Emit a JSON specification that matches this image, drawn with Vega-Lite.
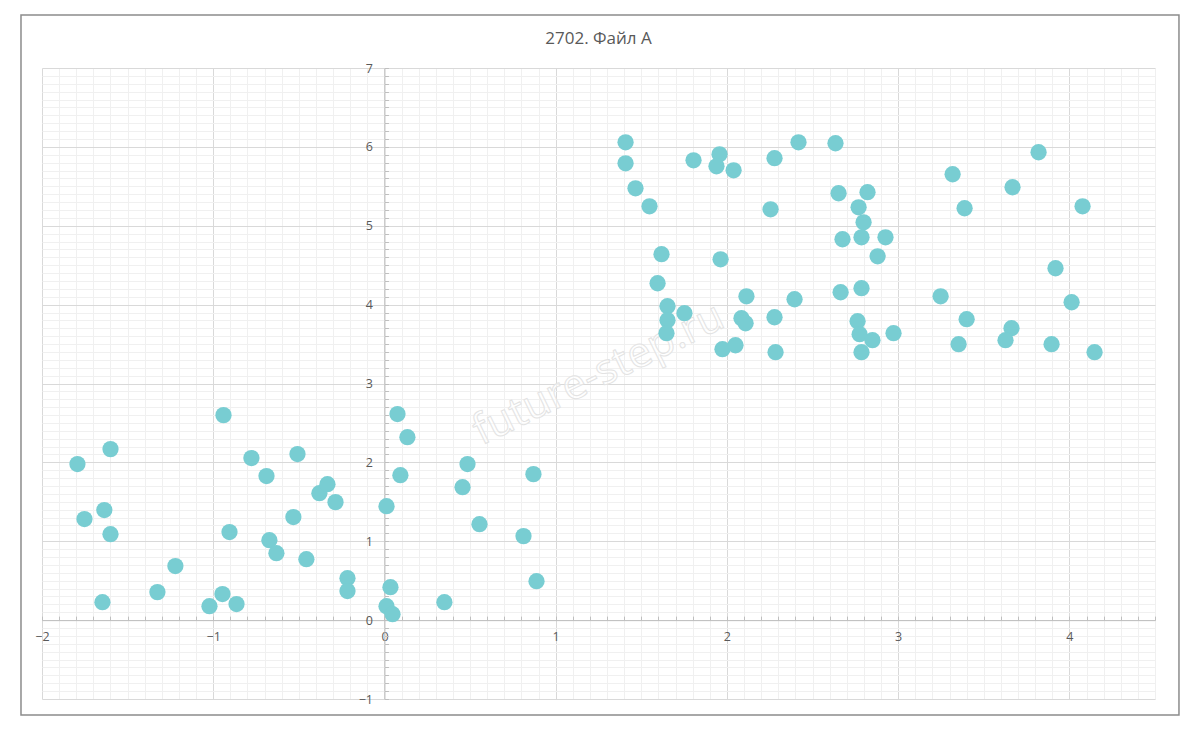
{
  "$schema": "https://vega.github.io/schema/vega-lite/v6.json",
  "width": 1113,
  "height": 631,
  "autosize": {"type": "none"},
  "padding": {"left": 42, "top": 68, "right": 45, "bottom": 32},
  "background": "white",
  "title": {
    "text": "2702. Файл А",
    "font": "Open Sans",
    "fontSize": 17,
    "fontWeight": "normal",
    "color": "#595959",
    "anchor": "middle",
    "offset": -34
  },
  "config": {
    "view": {"stroke": null},
    "axis": {
      "labelFont": "Open Sans",
      "labelFontSize": 12.5,
      "labelColor": "#595959",
      "domainColor": "#bfbfbf",
      "tickColor": "#bfbfbf",
      "labelOverlap": false,
      "labelBound": false,
      "labelFlush": false,
      "title": null
    }
  },
  "data": {
    "values": [
      {"x": -1.793, "y": 1.978}, {"x": -1.600, "y": 2.168}, {"x": -1.752, "y": 1.281}, {"x": -1.636, "y": 1.395},
      {"x": -1.600, "y": 1.090}, {"x": -1.647, "y": 0.228}, {"x": -1.326, "y": 0.355}, {"x": -1.221, "y": 0.685},
      {"x": -1.022, "y": 0.177}, {"x": -0.946, "y": 0.330}, {"x": -0.864, "y": 0.203}, {"x": -0.940, "y": 2.599},
      {"x": -0.905, "y": 1.116}, {"x": -0.777, "y": 2.054}, {"x": -0.689, "y": 1.826}, {"x": -0.672, "y": 1.014},
      {"x": -0.631, "y": 0.849}, {"x": -0.532, "y": 1.306}, {"x": -0.508, "y": 2.105}, {"x": -0.456, "y": 0.773},
      {"x": -0.380, "y": 1.610}, {"x": -0.333, "y": 1.724}, {"x": -0.286, "y": 1.496}, {"x": -0.216, "y": 0.532},
      {"x": -0.216, "y": 0.368}, {"x": 0.076, "y": 2.612}, {"x": 0.134, "y": 2.320}, {"x": 0.093, "y": 1.838},
      {"x": 0.012, "y": 1.445}, {"x": 0.485, "y": 1.978}, {"x": 0.456, "y": 1.686}, {"x": 0.555, "y": 1.217},
      {"x": 0.870, "y": 1.851}, {"x": 0.812, "y": 1.065}, {"x": 0.888, "y": 0.494}, {"x": 0.350, "y": 0.228},
      {"x": 0.035, "y": 0.418}, {"x": 0.012, "y": 0.177}, {"x": 0.047, "y": 0.076},
      {"x": 1.408, "y": 6.058}, {"x": 1.408, "y": 5.792}, {"x": 1.466, "y": 5.475}, {"x": 1.548, "y": 5.247},
      {"x": 1.805, "y": 5.830}, {"x": 1.957, "y": 5.906}, {"x": 1.939, "y": 5.754}, {"x": 2.039, "y": 5.703},
      {"x": 2.278, "y": 5.856}, {"x": 2.418, "y": 6.058}, {"x": 2.634, "y": 6.046}, {"x": 2.652, "y": 5.412},
      {"x": 2.821, "y": 5.425}, {"x": 2.769, "y": 5.234}, {"x": 2.798, "y": 5.044}, {"x": 2.675, "y": 4.829},
      {"x": 2.786, "y": 4.854}, {"x": 2.926, "y": 4.854}, {"x": 2.880, "y": 4.613}, {"x": 2.255, "y": 5.209},
      {"x": 1.618, "y": 4.639}, {"x": 1.963, "y": 4.575}, {"x": 1.595, "y": 4.271}, {"x": 1.653, "y": 3.980},
      {"x": 1.752, "y": 3.891}, {"x": 1.653, "y": 3.802}, {"x": 1.647, "y": 3.638}, {"x": 2.114, "y": 4.106},
      {"x": 2.085, "y": 3.828}, {"x": 2.109, "y": 3.764}, {"x": 2.395, "y": 4.068}, {"x": 2.278, "y": 3.840},
      {"x": 1.974, "y": 3.435}, {"x": 2.050, "y": 3.485}, {"x": 2.284, "y": 3.397}, {"x": 2.664, "y": 4.157},
      {"x": 2.786, "y": 4.208}, {"x": 2.763, "y": 3.790}, {"x": 2.775, "y": 3.625}, {"x": 2.850, "y": 3.549},
      {"x": 2.786, "y": 3.397}, {"x": 2.973, "y": 3.638}, {"x": 3.318, "y": 5.653}, {"x": 3.820, "y": 5.932},
      {"x": 3.668, "y": 5.488}, {"x": 3.388, "y": 5.222}, {"x": 4.077, "y": 5.247}, {"x": 3.919, "y": 4.461},
      {"x": 3.248, "y": 4.106}, {"x": 4.013, "y": 4.030}, {"x": 3.400, "y": 3.815}, {"x": 3.662, "y": 3.701},
      {"x": 3.627, "y": 3.549}, {"x": 3.353, "y": 3.498}, {"x": 3.896, "y": 3.498}, {"x": 4.147, "y": 3.397}
    ]
  },
  "layer": [
    {
      "mark": {"type": "point", "opacity": 0},
      "encoding": {
        "x": {
          "field": "x", "type": "quantitative",
          "scale": {"domain": [-2, 4.5], "nice": false, "zero": false},
          "axis": {
            "orient": "top", "grid": true, "labels": false, "ticks": false, "domain": false,
            "values": [-2,-1.9,-1.8,-1.7,-1.6,-1.5,-1.4,-1.3,-1.2,-1.1,-1,-0.9,-0.8,-0.7,-0.6,-0.5,-0.4,-0.3,-0.2,-0.1,0,0.1,0.2,0.3,0.4,0.5,0.6,0.7,0.8,0.9,1,1.1,1.2,1.3,1.4,1.5,1.6,1.7,1.8,1.9,2,2.1,2.2,2.3,2.4,2.5,2.6,2.7,2.8,2.9,3,3.1,3.2,3.3,3.4,3.5,3.6,3.7,3.8,3.9,4,4.1,4.2,4.3,4.4,4.5],
            "gridColor": {"condition": {"test": "abs(datum.value - round(datum.value)) < 0.001", "value": "#d9d9d9"}, "value": "#f0f0f0"},
            "gridWidth": 1
          }
        },
        "y": {
          "field": "y", "type": "quantitative",
          "scale": {"domain": [-1, 7], "nice": false, "zero": false},
          "axis": {
            "orient": "right", "grid": true, "labels": false, "ticks": false, "domain": false,
            "values": [-1,-0.9,-0.8,-0.7,-0.6,-0.5,-0.4,-0.3,-0.2,-0.1,0,0.1,0.2,0.3,0.4,0.5,0.6,0.7,0.8,0.9,1,1.1,1.2,1.3,1.4,1.5,1.6,1.7,1.8,1.9,2,2.1,2.2,2.3,2.4,2.5,2.6,2.7,2.8,2.9,3,3.1,3.2,3.3,3.4,3.5,3.6,3.7,3.8,3.9,4,4.1,4.2,4.3,4.4,4.5,4.6,4.7,4.8,4.9,5,5.1,5.2,5.3,5.4,5.5,5.6,5.7,5.8,5.9,6,6.1,6.2,6.3,6.4,6.5,6.6,6.7,6.8,6.9,7],
            "gridColor": {"condition": {"test": "abs(datum.value - round(datum.value)) < 0.001", "value": "#d9d9d9"}, "value": "#f0f0f0"},
            "gridWidth": 1
          }
        }
      }
    },
    {
      "data": {"values": [{"t": "future-step.ru"}]},
      "mark": {
        "type": "text", "font": "Open Sans", "fontSize": 42, "angle": 334,
        "align": "center", "baseline": "middle",
        "fill": "white", "fillOpacity": 0.6, "stroke": "#e3e3e3", "strokeWidth": 1
      },
      "encoding": {
        "x": {"datum": 1.25, "type": "quantitative", "axis": null},
        "y": {"datum": 3.12, "type": "quantitative", "axis": null},
        "text": {"field": "t"}
      }
    },
    {
      "mark": {"type": "circle", "size": 265, "color": "#78cdd2", "opacity": 1},
      "encoding": {
        "x": {
          "field": "x", "type": "quantitative",
          "axis": {
            "orient": "bottom", "offset": -78.875, "grid": false,
            "values": [-2,-1.9,-1.8,-1.7,-1.6,-1.5,-1.4,-1.3,-1.2,-1.1,-1,-0.9,-0.8,-0.7,-0.6,-0.5,-0.4,-0.3,-0.2,-0.1,0,0.1,0.2,0.3,0.4,0.5,0.6,0.7,0.8,0.9,1,1.1,1.2,1.3,1.4,1.5,1.6,1.7,1.8,1.9,2,2.1,2.2,2.3,2.4,2.5,2.6,2.7,2.8,2.9,3,3.1,3.2,3.3,3.4,3.5,3.6,3.7,3.8,3.9,4,4.1,4.2,4.3,4.4,4.5],
            "labelExpr": "abs(datum.value - round(datum.value)) < 0.001 ? format(round(datum.value), 'd') : ''",
            "tickSize": -4, "labelPadding": 14, "labelBaseline": "top"
          }
        },
        "y": {
          "field": "y", "type": "quantitative",
          "axis": {
            "orient": "left", "offset": -342.46, "grid": false,
            "values": [-1,-0.9,-0.8,-0.7,-0.6,-0.5,-0.4,-0.3,-0.2,-0.1,0,0.1,0.2,0.3,0.4,0.5,0.6,0.7,0.8,0.9,1,1.1,1.2,1.3,1.4,1.5,1.6,1.7,1.8,1.9,2,2.1,2.2,2.3,2.4,2.5,2.6,2.7,2.8,2.9,3,3.1,3.2,3.3,3.4,3.5,3.6,3.7,3.8,3.9,4,4.1,4.2,4.3,4.4,4.5,4.6,4.7,4.8,4.9,5,5.1,5.2,5.3,5.4,5.5,5.6,5.7,5.8,5.9,6,6.1,6.2,6.3,6.4,6.5,6.6,6.7,6.8,6.9,7],
            "labelExpr": "abs(datum.value - round(datum.value)) < 0.001 ? format(round(datum.value), 'd') : ''",
            "tickSize": -4, "labelPadding": 16
          }
        }
      }
    },
    {
      "data": {"values": [{}]},
      "mark": {"type": "rect", "fill": null, "stroke": "#8c8c8c", "strokeWidth": 1.5},
      "encoding": {
        "x": {"datum": -2.1227, "type": "quantitative", "axis": null},
        "x2": {"datum": 4.640},
        "y": {"datum": -1.203, "type": "quantitative", "axis": null},
        "y2": {"datum": 7.672}
      }
    }
  ]
}
